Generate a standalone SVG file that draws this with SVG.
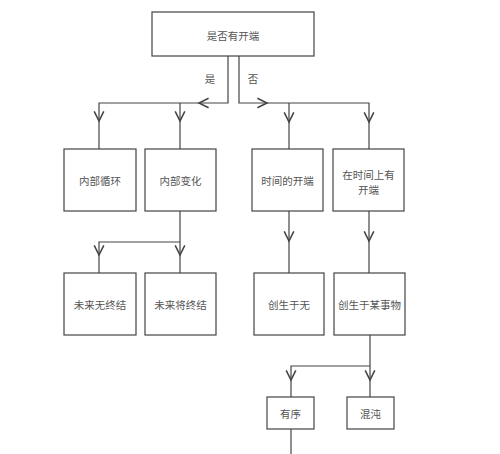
<svg xmlns="http://www.w3.org/2000/svg" width="500" height="454" viewBox="0 0 500 454">
<style>
.box{fill:#fff;stroke:#444;stroke-width:1.2}
.t{font-family:"Noto Sans CJK SC","Liberation Sans",sans-serif;font-size:10.5px;fill:#555;text-anchor:middle;dominant-baseline:central}
.c{fill:none;stroke:#444;stroke-width:1.2}
</style>
<defs>
<marker id="ah" markerUnits="userSpaceOnUse" markerWidth="12" markerHeight="12" viewBox="0 0 10 10" refX="8" refY="5" orient="auto">
<path d="M0,1 L8,5 L0,9" fill="none" stroke="#444" stroke-width="1.3"/>
</marker>
</defs>
<rect width="500" height="454" fill="#fff"/>
<g id="connectors">
<path class="c" d="M228,56 V103 H199" marker-end="url(#ah)"/>
<path class="c" d="M199,103 H99 V121" marker-end="url(#ah)"/>
<path class="c" d="M99,121 V149"/>
<path class="c" d="M180,103 V121" marker-end="url(#ah)"/>
<path class="c" d="M180,121 V149"/>
<path class="c" d="M239,56 V103 H267" marker-end="url(#ah)"/>
<path class="c" d="M267,103 H369 V122" marker-end="url(#ah)"/>
<path class="c" d="M369,122 V149"/>
<path class="c" d="M289,103 V122" marker-end="url(#ah)"/>
<path class="c" d="M289,122 V149"/>
<path class="c" d="M180,211 V255" marker-end="url(#ah)"/>
<path class="c" d="M180,242 H99 V255" marker-end="url(#ah)"/>
<path class="c" d="M99,255 V273"/>
<path class="c" d="M180,255 V273"/>
<path class="c" d="M289,211 V241" marker-end="url(#ah)"/>
<path class="c" d="M289,241 V273"/>
<path class="c" d="M369,211 V241" marker-end="url(#ah)"/>
<path class="c" d="M369,241 V273"/>
<path class="c" d="M370,335 V380" marker-end="url(#ah)"/>
<path class="c" d="M370,366 H291 V380" marker-end="url(#ah)"/>
<path class="c" d="M291,380 V397"/>
<path class="c" d="M370,380 V397"/>
<path class="c" d="M291,429 V454"/>
<text class="t" x="210" y="78">是</text>
<text class="t" x="253" y="78">否</text>
</g>
<g id="n-start"><rect class="box" x="152" y="12" width="162" height="44"/><text class="t" x="233" y="35">是否有开端</text></g>
<g id="n-cycle"><rect class="box" x="64" y="149" width="72" height="62"/><text class="t" x="100" y="180">内部循环</text></g>
<g id="n-change"><rect class="box" x="145" y="149" width="71" height="62"/><text class="t" x="180.5" y="180">内部变化</text></g>
<g id="n-timestart"><rect class="box" x="252" y="149" width="71" height="62"/><text class="t" x="287.5" y="180">时间的开端</text></g>
<g id="n-intime"><rect class="box" x="333" y="149" width="71" height="62"/><text class="t" x="368.5" y="174">在时间上有</text><text class="t" x="368.5" y="189">开端</text></g>
<g id="n-noend"><rect class="box" x="64" y="273" width="72" height="62"/><text class="t" x="100" y="304">未来无终结</text></g>
<g id="n-willend"><rect class="box" x="145" y="273" width="71" height="62"/><text class="t" x="180.5" y="304">未来将终结</text></g>
<g id="n-fromnothing"><rect class="box" x="254" y="273" width="70" height="62"/><text class="t" x="289" y="304">创生于无</text></g>
<g id="n-fromsomething"><rect class="box" x="334" y="273" width="71" height="62"/><text class="t" x="369.5" y="304">创生于某事物</text></g>
<g id="n-order"><rect class="box" x="267" y="397" width="47" height="32"/><text class="t" x="290.5" y="413">有序</text></g>
<g id="n-chaos"><rect class="box" x="347" y="397" width="47" height="32"/><text class="t" x="370.5" y="413">混沌</text></g>
</svg>
